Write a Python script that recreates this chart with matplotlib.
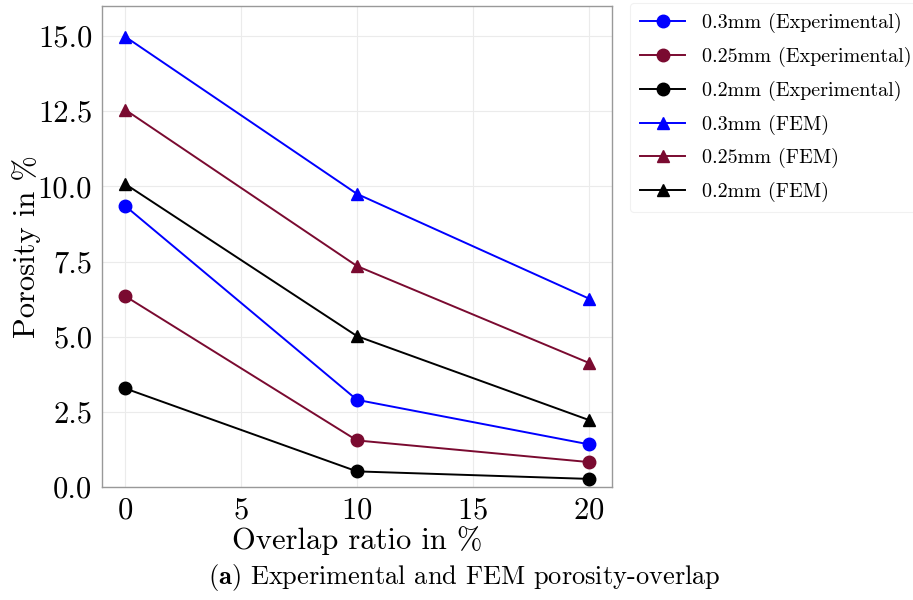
import matplotlib
matplotlib.use("Agg")
import matplotlib.pyplot as plt

# data
overlap = [0, 10, 20]
exp_03 = [9.35, 2.90, 1.42]
exp_025 = [6.35, 1.55, 0.83]
exp_02 = [3.28, 0.52, 0.27]
fem_03 = [14.98, 9.75, 6.27]
fem_025 = [12.55, 7.35, 4.13]
fem_02 = [10.08, 5.02, 2.23]

BLUE = "#0000ff"
MAROON = "#7a0a30"
BLACK = "#000000"

plt.rcParams["font.family"] = ["cmr10", "DejaVu Serif"]
plt.rcParams["mathtext.fontset"] = "cm"
plt.rcParams["axes.formatter.use_mathtext"] = True

fig = plt.figure(figsize=(9.13, 6.0), dpi=100)
ax = fig.add_axes([0.1117, 0.1883, 0.5586, 0.8017])

series = [
    (exp_03, BLUE, "o", "0.3mm (Experimental)"),
    (exp_025, MAROON, "o", "0.25mm (Experimental)"),
    (exp_02, BLACK, "o", "0.2mm (Experimental)"),
    (fem_03, BLUE, "^", "0.3mm (FEM)"),
    (fem_025, MAROON, "^", "0.25mm (FEM)"),
    (fem_02, BLACK, "^", "0.2mm (FEM)"),
]
for vals, col, mk, lab in series:
    ax.plot(overlap, vals, color=col, marker=mk, markersize=9, lw=1.4,
            label=lab, zorder=3)

ax.set_xlim(-1, 21)
ax.set_ylim(0, 16)
ax.set_xticks([0, 5, 10, 15, 20])
ax.set_yticks([0, 2.5, 5, 7.5, 10, 12.5, 15])
ax.set_yticklabels(["0.0", "2.5", "5.0", "7.5", "10.0", "12.5", "15.0"])
ax.tick_params(length=0, labelsize=22, pad=7)
ax.grid(True, color="#ebebeb", lw=0.8, zorder=0)
for s in ax.spines.values():
    s.set_color("#999999")
    s.set_linewidth(1.0)

ax.set_xlabel("Overlap ratio in %", fontsize=22, labelpad=1)
ax.set_ylabel("Porosity in %", fontsize=22, labelpad=-2)

leg = fig.legend(loc="upper left", bbox_to_anchor=(0.690, 0.995),
                 borderaxespad=0, fontsize=14.5, frameon=True,
                 handlelength=2.25, handletextpad=0.85,
                 labelspacing=0.68, borderpad=0.5, fancybox=True)
leg.get_frame().set_edgecolor("#eeeeee")
leg.get_frame().set_linewidth(0.8)

fig.text(0.509, 0.037, r"$\mathbf{(a)}$ Experimental and FEM porosity-overlap",
         ha="center", va="center", fontsize=19)

fig.savefig("out.png", dpi=100, facecolor="white")
